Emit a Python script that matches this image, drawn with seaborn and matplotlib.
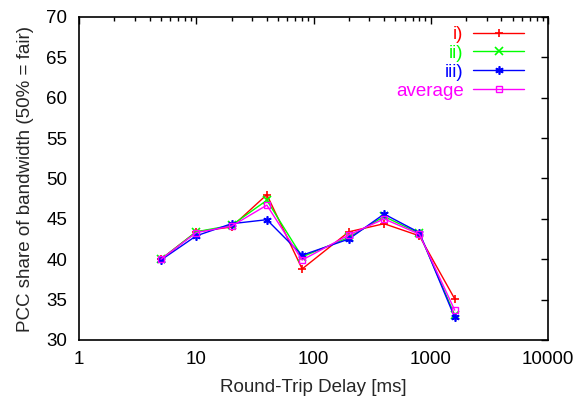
import matplotlib
matplotlib.use("Agg")
import matplotlib.pyplot as plt
import seaborn as sns
import pandas as pd
from matplotlib.ticker import LogLocator, FixedLocator, NullFormatter

delays = [5, 10, 20, 40, 80, 200, 400, 800, 1600]
series_names = ["i)", "ii)", "iii)", "average"]
vals_i = [40.0, 43.4, 44.0, 48.0, 38.8, 43.4, 44.4, 42.9, 35.1]
vals_ii = [40.0, 43.4, 44.2, 47.3, 40.3, 42.7, 45.3, 43.2, 33.1]
vals_iii = [39.9, 42.9, 44.4, 44.9, 40.5, 42.5, 45.6, 43.3, 32.8]
vals_avg = [40.0, 43.3, 44.1, 46.7, 39.9, 43.0, 45.0, 43.1, 33.7]
colors = ["#ff0000", "#00ff00", "#0000ff", "#ff00ff"]
y_ticks = [30, 35, 40, 45, 50, 55, 60, 65, 70]
x_ticks = [1, 10, 100, 1000, 10000]

rows = []
for name, vals in zip(series_names, [vals_i, vals_ii, vals_iii, vals_avg]):
    for d, v in zip(delays, vals):
        rows.append({"delay": d, "share": v, "series": name})
df = pd.DataFrame(rows)

sns.set_style("white")
plt.rcParams["font.family"] = ["Liberation Sans", "DejaVu Sans"]
FS = 13.5
plt.rcParams["font.size"] = FS

fig = plt.figure(figsize=(5.76, 3.99), dpi=100)
ax = fig.add_axes([79 / 576, 1 - 340 / 399, (548 - 79) / 576, (340 - 17) / 399])

markers = {"i)": "+", "ii)": "x", "iii)": (6, 2, 0), "average": "s"}
handles = []
for name, c in zip(series_names, colors):
    sub = df[df["series"] == name]
    mk = markers[name]
    kw = dict(marker=mk, markersize=6, markeredgewidth=1.2, markeredgecolor=c)
    if mk == "s":
        kw.update(markerfacecolor="none", markersize=5, markeredgewidth=1.0)
    sns.lineplot(data=sub, x="delay", y="share", color=c, linewidth=1.0,
                 ax=ax, legend=False, **kw)
    handles.append(ax.lines[-1])

ax.set_xscale("log")
ax.set_xlim(1, 10000)
ax.set_ylim(30, 70)
ax.xaxis.set_major_locator(FixedLocator(x_ticks))
ax.set_xticklabels([str(t) for t in x_ticks])
ax.xaxis.set_minor_locator(LogLocator(base=10, subs=range(2, 10)))
ax.xaxis.set_minor_formatter(NullFormatter())
ax.set_yticks(y_ticks)
ax.set_yticklabels([str(t) for t in y_ticks])
ax.tick_params(which="both", direction="in", top=True, right=True, colors="black",
               labelsize=FS)
ax.tick_params(which="major", length=5, width=1)
ax.tick_params(which="minor", length=3, width=1)
ax.tick_params(axis="x", which="major", pad=8)
ax.tick_params(axis="y", which="major", pad=8.5)
for s in ax.spines.values():
    s.set_color("black")
    s.set_linewidth(1.2)

ax.set_xlabel("Round-Trip Delay [ms]", fontsize=FS, labelpad=8)
ax.set_ylabel("PCC share of bandwidth (50% = fair)", fontsize=FS, labelpad=9)

leg = ax.legend(handles, series_names, loc="upper right", frameon=False,
                markerfirst=False, bbox_to_anchor=(0.949, 0.972),
                borderpad=0, borderaxespad=0, handlelength=2.7, handletextpad=0.53,
                labelspacing=0.09, fontsize=FS)
for t, c in zip(leg.get_texts(), colors):
    t.set_color(c)

fig.savefig("out.png", dpi=100)
